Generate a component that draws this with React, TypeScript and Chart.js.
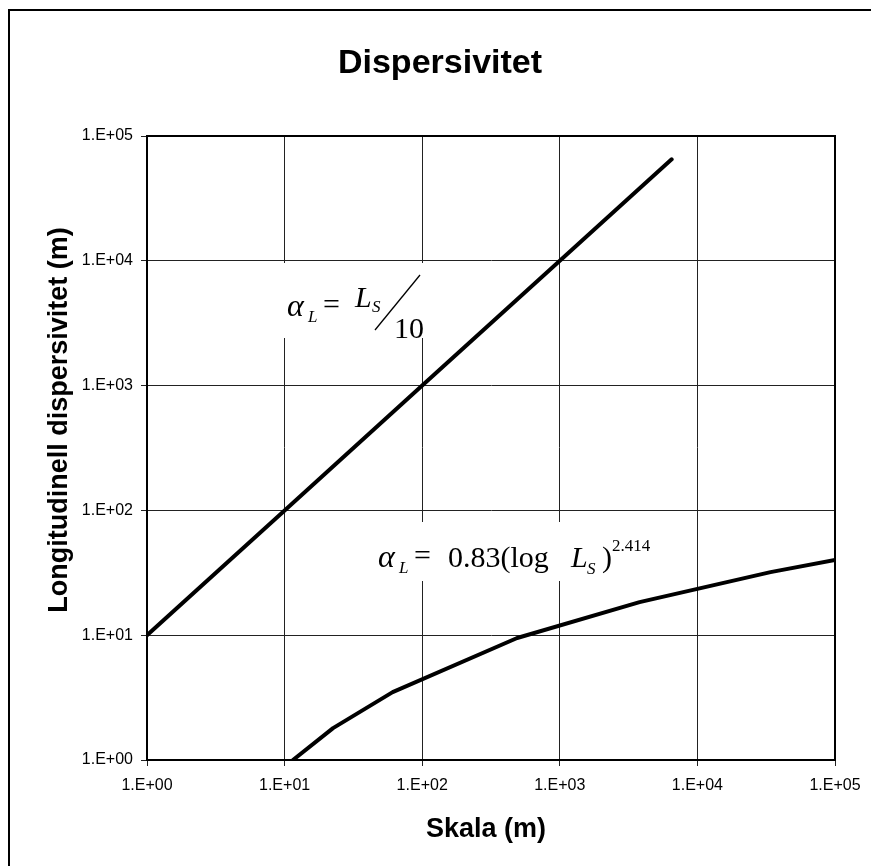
import { useEffect, useRef } from "react";
import { Chart, registerables } from "chart.js";

Chart.register(...registerables);

// Scale (m) on the x axis, longitudinal dispersivity (m) on the y axis
const linearScale = [1, 10, 100, 1000, 6500];
const linearAlpha = [10, 100, 1000, 10000, 65000];

const logScale = [11.5, 22.5, 61, 490, 3800, 34000, 100000];
const logAlpha = [1.0, 1.8, 3.5, 9.5, 18.4, 32, 40];

const decadeValues = [1, 10, 100, 1000, 10000, 100000];
const xTickLabels = ["1.E+00", "1.E+01", "1.E+02", "1.E+03", "1.E+04", "1.E+05"];
const yTickLabels = ["1.E+00", "1.E+01", "1.E+02", "1.E+03", "1.E+04", "1.E+05"];

const chartTitle = "Dispersivitet";
const xTitle = "Skala (m)";
const yTitle = "Longitudinell dispersivitet (m)";

const SANS = "'Liberation Sans', Arial, sans-serif";
const SERIF = "'Liberation Serif', 'Times New Roman', serif";

const decorations = {
  id: "decorations",
  beforeDatasetsDraw(chart: any) {
    const ctx = chart.ctx;
    ctx.save();
    ctx.fillStyle = "#fff";
    // white backing behind the two formulas
    ctx.fillRect(270, 263, 165, 75);
    ctx.fillRect(372, 522, 290, 59);
    ctx.restore();
  },
  afterDraw(chart: any) {
    const ctx = chart.ctx;
    const a = chart.chartArea;
    ctx.save();

    // outer frame
    ctx.strokeStyle = "#000";
    ctx.lineWidth = 2;
    ctx.strokeRect(9, 10, 880, 880);

    // plot frame
    ctx.lineWidth = 2;
    ctx.strokeRect(a.left, a.top, a.right - a.left, a.bottom - a.top);

    ctx.fillStyle = "#000";
    ctx.textBaseline = "middle";
    ctx.textAlign = "center";
    ctx.font = `bold 34px ${SANS}`;
    ctx.fillText(chartTitle, 440, 64);

    ctx.font = `bold 27px ${SANS}`;
    ctx.fillText(xTitle, 486, 830);

    ctx.save();
    ctx.translate(60, 420);
    ctx.rotate(-Math.PI / 2);
    ctx.fillText(yTitle, 0, 0);
    ctx.restore();

    // formula: alpha_L = L_S / 10
    ctx.textAlign = "left";
    ctx.textBaseline = "alphabetic";
    ctx.font = `italic 32px ${SERIF}`;
    ctx.fillText("\u03b1", 287, 316);
    ctx.font = `italic 17px ${SERIF}`;
    ctx.fillText("L", 308, 322);
    ctx.font = `30px ${SERIF}`;
    ctx.fillText("=", 323, 314);
    ctx.font = `italic 30px ${SERIF}`;
    ctx.fillText("L", 355, 307);
    ctx.font = `italic 17px ${SERIF}`;
    ctx.fillText("S", 372, 312);
    ctx.beginPath();
    ctx.lineWidth = 1.3;
    ctx.moveTo(375, 330);
    ctx.lineTo(420, 275);
    ctx.stroke();
    ctx.font = `30px ${SERIF}`;
    ctx.fillText("10", 394, 338);

    // formula: alpha_L = 0.83 (log L_S)^2.414
    ctx.font = `italic 32px ${SERIF}`;
    ctx.fillText("\u03b1", 378, 567);
    ctx.font = `italic 17px ${SERIF}`;
    ctx.fillText("L", 399, 573);
    ctx.font = `30px ${SERIF}`;
    ctx.fillText("=", 414, 565);
    ctx.fillText("0.83(log", 448, 567);
    ctx.font = `italic 30px ${SERIF}`;
    ctx.fillText("L", 571, 567);
    ctx.font = `italic 17px ${SERIF}`;
    ctx.fillText("S", 587, 574);
    ctx.font = `30px ${SERIF}`;
    ctx.fillText(")", 602, 567);
    ctx.font = `17px ${SERIF}`;
    ctx.fillText("2.414", 612, 551);

    ctx.restore();
  },
};

export default function App() {
  const ref = useRef<HTMLCanvasElement | null>(null);

  useEffect(() => {
    if (!ref.current) return;
    const decadeTicks = (scale: any) => {
      scale.ticks = decadeValues.map((v) => ({ value: v }));
    };
    const chart = new Chart(ref.current, {
      type: "line",
      data: {
        datasets: [
          {
            data: linearScale.map((x, i) => ({ x, y: linearAlpha[i] })),
            borderColor: "#000",
            borderWidth: 4,
            pointRadius: 0,
            borderCapStyle: "round",
            borderJoinStyle: "round",
          },
          {
            data: logScale.map((x, i) => ({ x, y: logAlpha[i] })),
            borderColor: "#000",
            borderWidth: 4,
            pointRadius: 0,
            borderCapStyle: "round",
            borderJoinStyle: "round",
          },
        ],
      },
      options: {
        animation: false,
        responsive: false,
        devicePixelRatio: 1,
        layout: { padding: { top: 136, right: 36, left: 0, bottom: 0 } },
        plugins: {
          legend: { display: false },
          tooltip: { enabled: false },
          title: { display: false },
        },
        scales: {
          x: {
            type: "logarithmic",
            min: 1,
            max: 100000,
            afterBuildTicks: decadeTicks,
            afterFit: (s: any) => {
              s.height = 106;
            },
            grid: { color: "#222", lineWidth: 1, tickLength: 6 },
            border: { color: "#000", width: 2 },
            ticks: {
              color: "#000",
              padding: 10,
              maxRotation: 0,
              autoSkip: false,
              font: { family: SANS, size: 16 },
              callback: (v: any) => xTickLabels[decadeValues.indexOf(Number(v))] ?? "",
            },
          },
          y: {
            type: "logarithmic",
            min: 1,
            max: 100000,
            afterBuildTicks: decadeTicks,
            afterFit: (s: any) => {
              s.width = 147;
            },
            grid: { color: "#222", lineWidth: 1, tickLength: 6 },
            border: { color: "#000", width: 2 },
            ticks: {
              color: "#000",
              padding: 8,
              autoSkip: false,
              font: { family: SANS, size: 16 },
              callback: (v: any) => yTickLabels[decadeValues.indexOf(Number(v))] ?? "",
            },
          },
        },
      },
      plugins: [decorations],
    });
    return () => chart.destroy();
  }, []);

  return (
    <div style={{ position: "absolute", left: 0, top: 0, width: 871, height: 866, background: "#fff" }}>
      <canvas ref={ref} width={871} height={866} style={{ display: "block" }} />
    </div>
  );
}
